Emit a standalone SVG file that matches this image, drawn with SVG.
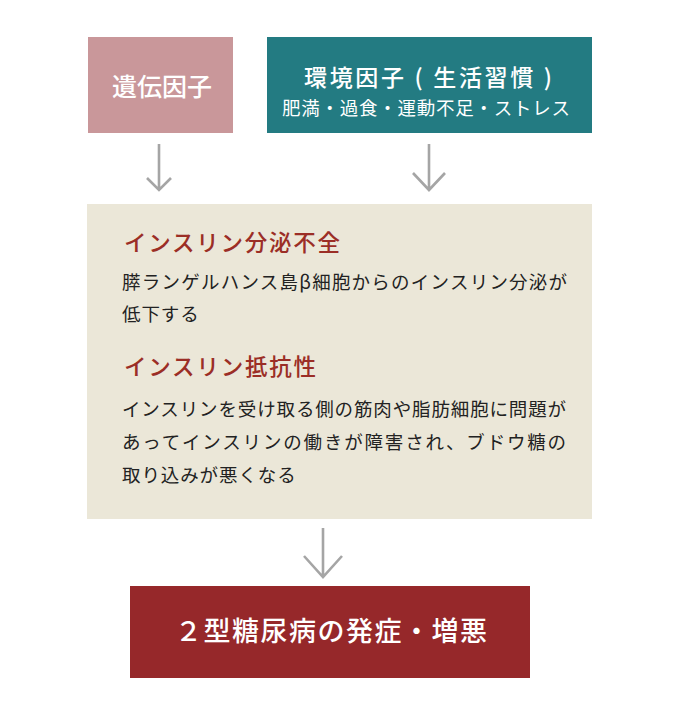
<svg xmlns="http://www.w3.org/2000/svg" width="680" height="718" viewBox="0 0 680 718">
  <style>
    text { font-family: "Noto Sans CJK JP", "Noto Sans", sans-serif; }
    .w { fill: #ffffff; font-weight: 500; }
    .title { fill: #9b2e26; font-size: 22.5px; font-weight: 500; }
    .body { fill: #222222; font-size: 18.5px; letter-spacing: 0.9px; }
    .arrow { fill: none; stroke: #a5a5a5; stroke-width: 2.6; }
  </style>
  <rect width="680" height="718" fill="#ffffff"/>

  <g id="node-genetic">
    <rect x="88" y="37" width="145" height="96" fill="#c9979a"/>
    <text class="w" x="112" y="96" font-size="25" textLength="100" lengthAdjust="spacing">遺伝因子</text>
  </g>

  <g id="node-environment">
    <rect x="267" y="37" width="325" height="96" fill="#237b82"/>
    <text class="w" x="304" y="86" font-size="23" textLength="248" lengthAdjust="spacing">環境因子 ( 生活習慣 )</text>
    <text x="282" y="115" font-size="18.5" fill="#ffffff" textLength="288" lengthAdjust="spacing">肥満・過食・運動不足・ストレス</text>
  </g>

  <g id="node-mechanism">
    <rect x="87" y="204" width="505" height="315" fill="#ebe7d8"/>
    <text class="title" x="124" y="251" textLength="216" lengthAdjust="spacing">インスリン分泌不全</text>
    <text class="body" x="122" y="289" textLength="446" lengthAdjust="spacing">膵ランゲルハンス島β細胞からのインスリン分泌が</text>
    <text class="body" x="122" y="321">低下する</text>
    <text class="title" x="124" y="375" textLength="192" lengthAdjust="spacing">インスリン抵抗性</text>
    <text class="body" x="122" y="416" textLength="445" lengthAdjust="spacing">インスリンを受け取る側の筋肉や脂肪細胞に問題が</text>
    <text class="body" x="122" y="449" textLength="445" lengthAdjust="spacing">あってインスリンの働きが障害され、ブドウ糖の</text>
    <text class="body" x="122" y="482">取り込みが悪くなる</text>
  </g>

  <g id="node-result">
    <rect x="130" y="586" width="400" height="92" fill="#96282a"/>
    <text class="w" x="175" y="641" font-size="27" textLength="312" lengthAdjust="spacing">２型糖尿病の発症・増悪</text>
  </g>

  <g id="connectors">
    <path class="arrow" d="M159 144 V189 M147 178 L159 190 L171 178"/>
    <path class="arrow" d="M429 144 V189 M413 173 L429 190 L445 173"/>
    <path class="arrow" d="M323 528 V576 M304 556 L323 577 L342 556" stroke-width="3"/>
  </g>
</svg>
